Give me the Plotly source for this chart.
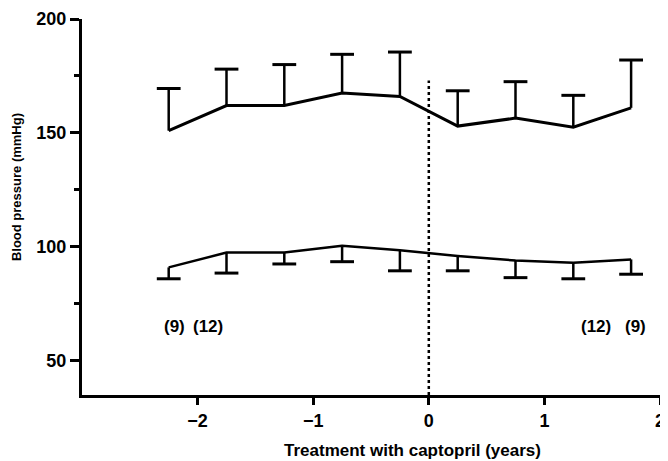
import plotly.graph_objects as go

years = [-2.25, -1.75, -1.25, -0.75, -0.25, 0.25, 0.75, 1.25, 1.75]
systolic = [151, 162, 162, 167.5, 166, 153, 156.5, 152.5, 161]
systolic_sd_up = [18.5, 16, 18, 17, 19.5, 15.5, 16, 14, 21]
diastolic = [91, 97.5, 97.5, 100.5, 98.5, 96, 94, 93, 94.5]
diastolic_sd_down = [5, 9, 5, 7, 9, 6.5, 7.5, 7, 6.5]
n_labels = ["(9)", "(12)", "(12)", "(9)"]
n_label_x = [-2.2, -1.91, 1.45, 1.79]
n_label_y = 65


def whiskers(xs, base, ends):
    wx, wy = [], []
    for xv, b, e in zip(xs, base, ends):
        wx += [xv, xv, None]
        wy += [b, e, None]
    return wx, wy


sys_top = [v + s for v, s in zip(systolic, systolic_sd_up)]
dia_bot = [v - s for v, s in zip(diastolic, diastolic_sd_down)]

fig = go.Figure()
for base, ends in [(systolic, sys_top), (diastolic, dia_bot)]:
    wx, wy = whiskers(years, base, ends)
    fig.add_trace(go.Scatter(x=wx, y=wy, mode="lines",
                             line=dict(color="black", width=2.5),
                             showlegend=False, hoverinfo="skip"))
    fig.add_trace(go.Scatter(x=years, y=ends, mode="markers",
                             marker=dict(symbol="line-ew", size=17, color="black",
                                         line=dict(color="black", width=3)),
                             showlegend=False, hoverinfo="skip"))

fig.add_trace(go.Scatter(x=years, y=systolic, mode="lines",
                         line=dict(color="black", width=3), showlegend=False))
fig.add_trace(go.Scatter(x=years, y=diastolic, mode="lines",
                         line=dict(color="black", width=2.5), showlegend=False))
# dotted treatment-start line
fig.add_trace(go.Scatter(x=[0, 0], y=[35, 173], mode="lines",
                         line=dict(color="black", width=2.5, dash="dot"),
                         showlegend=False))
for t, xv in zip(n_labels, n_label_x):
    fig.add_annotation(x=xv, y=n_label_y, text="<b>" + t + "</b>", showarrow=False,
                       font=dict(size=17, color="black"))

# axis titles
fig.add_annotation(xref="paper", yref="paper", x=0.572, y=0, yshift=-55,
                   yanchor="middle", xanchor="center", showarrow=False,
                   text="<b>Treatment with captopril (years)</b>",
                   font=dict(size=17, color="black"))
fig.add_annotation(xref="paper", yref="paper", x=0, xshift=-66, y=0.553,
                   xanchor="center", yanchor="middle", textangle=-90, showarrow=False,
                   text="<b>Blood pressure (mmHg)</b>",
                   font=dict(size=13, color="black"))

# page body has an 8px margin, so the figure is sized to fit the 668x461 window
fig.update_layout(
    width=660, height=453,
    margin=dict(l=74, r=8, t=11, b=66),
    plot_bgcolor="white", paper_bgcolor="white",
    font=dict(family="Liberation Sans", color="black", size=18),
)
fig.update_xaxes(range=[-3, 2], tickvals=[-2, -1, 0, 1, 2],
                 ticktext=["<b>−2</b>", "<b>−1</b>", "<b>0</b>", "<b>1</b>", "<b>2</b>"],
                 ticks="outside", ticklen=7, tickwidth=3, tickcolor="black",
                 ticklabelstandoff=0,
                 showline=True, linewidth=3, linecolor="black",
                 showgrid=False, zeroline=False, automargin=False)
fig.update_yaxes(range=[35, 200], tickvals=[50, 100, 150, 200],
                 ticktext=["<b>50</b>", "<b>100</b>", "<b>150</b>", "<b>200</b>"],
                 ticks="outside", ticklen=9, tickwidth=3, tickcolor="black",
                 minor=dict(tickvals=[75, 125, 175], ticks="outside", ticklen=5,
                            tickwidth=3, tickcolor="black"),
                 showline=True, linewidth=3, linecolor="black",
                 showgrid=False, zeroline=False, automargin=False)

fig.write_html("out.html")
